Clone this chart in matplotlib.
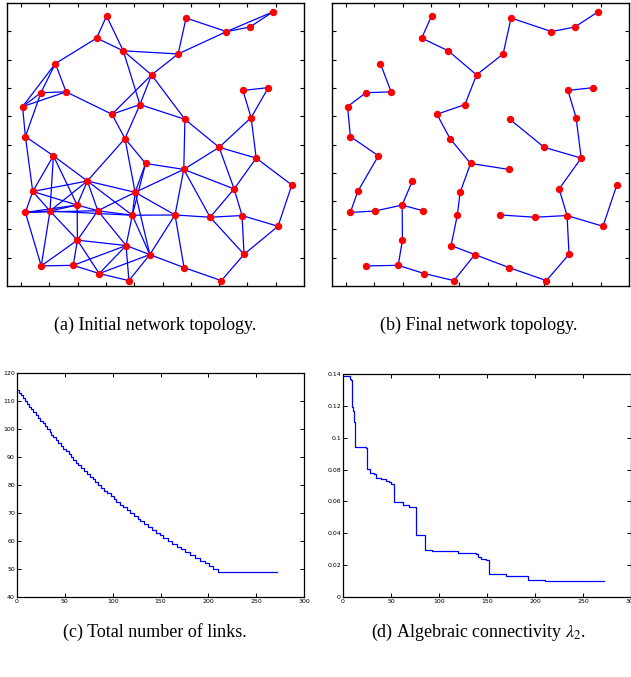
import numpy as np
import matplotlib
matplotlib.use('Agg')
import matplotlib.pyplot as plt

plt.rcParams['mathtext.fontset'] = 'stix'

# node positions (same nodes in both topologies)
nodes = {
    'A1': (0.302, 0.954), 'A2': (0.267, 0.876), 'A3': (0.361, 0.831), 'A4': (0.583, 0.947),
    'A5': (0.726, 0.899), 'A6': (0.808, 0.915), 'A7': (0.891, 0.969), 'A8': (0.555, 0.820),
    'A9': (0.461, 0.746), 'A10': (0.121, 0.786), 'A11': (0.070, 0.683), 'A12': (0.159, 0.686),
    'A13': (0.005, 0.634), 'A14': (0.420, 0.641), 'A15': (0.321, 0.607), 'A16': (0.579, 0.589),
    'A17': (0.784, 0.691), 'A18': (0.874, 0.701), 'A19': (0.813, 0.595), 'A20': (0.015, 0.528),
    'A21': (0.367, 0.521), 'A22': (0.700, 0.490),
    'B1': (0.114, 0.460), 'B2': (0.440, 0.433), 'B3': (0.575, 0.412), 'B5': (0.831, 0.452),
    'B6': (0.957, 0.357), 'B7': (0.234, 0.371), 'B8': (0.041, 0.334), 'B9': (0.403, 0.331),
    'B10': (0.753, 0.343), 'B11': (0.198, 0.286), 'B12': (0.015, 0.260), 'B13': (0.102, 0.265),
    'B14': (0.271, 0.266), 'B15': (0.393, 0.250), 'B16': (0.544, 0.251), 'B17': (0.668, 0.243),
    'B18': (0.781, 0.249), 'B19': (0.908, 0.211), 'B20': (0.199, 0.162), 'B21': (0.371, 0.143),
    'B22': (0.455, 0.111), 'B23': (0.788, 0.112), 'B24': (0.071, 0.071), 'B25': (0.184, 0.073),
    'B26': (0.276, 0.044), 'B27': (0.381, 0.019), 'B28': (0.576, 0.065), 'B29': (0.708, 0.019),
}

initial_edges = [
    ('A1', 'A2'), ('A1', 'A3'), ('A2', 'A3'), ('A2', 'A10'), ('A3', 'A8'), ('A3', 'A9'),
    ('A3', 'A14'), ('A4', 'A8'), ('A4', 'A5'), ('A5', 'A6'), ('A5', 'A7'), ('A6', 'A7'),
    ('A8', 'A5'), ('A8', 'A9'), ('A9', 'A15'), ('A9', 'A14'), ('A9', 'A16'), ('A10', 'A11'),
    ('A10', 'A12'), ('A10', 'A13'), ('A11', 'A12'), ('A11', 'A13'), ('A12', 'A13'), ('A12', 'A15'),
    ('A13', 'A20'), ('A11', 'A20'), ('A14', 'A15'), ('A14', 'A21'), ('A14', 'A16'), ('A15', 'A21'),
    ('A16', 'A22'), ('A16', 'B3'), ('A17', 'A18'), ('A17', 'A19'), ('A18', 'A19'), ('A19', 'A22'),
    ('A19', 'B5'), ('A20', 'B1'), ('A20', 'B8'), ('A21', 'B7'), ('A21', 'B9'), ('A21', 'B2'),
    ('B1', 'B7'), ('B1', 'B8'), ('B1', 'B13'), ('B1', 'B11'), ('B7', 'B8'), ('B7', 'B13'),
    ('B7', 'B11'), ('B7', 'B14'), ('B7', 'B9'), ('B7', 'B15'), ('B8', 'B12'), ('B8', 'B13'),
    ('B8', 'B11'), ('B12', 'B13'), ('B12', 'B14'), ('B12', 'B11'), ('B12', 'B24'), ('B13', 'B11'),
    ('B13', 'B15'), ('B13', 'B20'), ('B13', 'B24'), ('B11', 'B20'), ('B11', 'B14'), ('B14', 'B9'),
    ('B14', 'B15'), ('B14', 'B20'), ('B14', 'B21'), ('B9', 'B15'), ('B9', 'B3'), ('B9', 'B22'),
    ('B9', 'B16'), ('B2', 'B3'), ('B2', 'B9'), ('B2', 'B15'), ('B15', 'B16'), ('B15', 'B21'),
    ('B15', 'B22'), ('B16', 'B3'), ('B16', 'B17'), ('B16', 'B22'), ('B16', 'B28'), ('B3', 'B17'),
    ('B3', 'B10'), ('A22', 'B3'), ('A22', 'B10'), ('A22', 'B5'), ('B5', 'B10'), ('B5', 'B6'),
    ('B10', 'B17'), ('B10', 'B18'), ('B6', 'B19'), ('B17', 'B18'), ('B17', 'B23'), ('B18', 'B23'),
    ('B18', 'B19'), ('B19', 'B23'), ('B20', 'B24'), ('B20', 'B25'), ('B20', 'B26'), ('B20', 'B21'),
    ('B24', 'B25'), ('B25', 'B21'), ('B25', 'B26'), ('B26', 'B21'), ('B26', 'B22'), ('B21', 'B27'),
    ('B21', 'B22'), ('B22', 'B27'), ('B26', 'B27'), ('B22', 'B28'), ('B28', 'B29'), ('B29', 'B23'),
]

final_edges = [
    ('A1', 'A2'), ('A2', 'A3'), ('A3', 'A9'), ('A9', 'A8'), ('A8', 'A4'), ('A4', 'A5'),
    ('A5', 'A6'), ('A6', 'A7'), ('A9', 'A14'), ('A14', 'A15'), ('A15', 'A21'), ('A21', 'B2'),
    ('B2', 'B3'), ('B2', 'B9'), ('B9', 'B15'), ('B15', 'B21'), ('B21', 'B22'), ('B22', 'B27'),
    ('B22', 'B28'), ('B28', 'B29'), ('B29', 'B23'), ('B23', 'B18'), ('B18', 'B17'), ('B17', 'B16'),
    ('B18', 'B19'), ('B19', 'B6'), ('B18', 'B10'), ('B10', 'B5'), ('B5', 'A22'), ('A22', 'A16'),
    ('B5', 'A19'), ('A19', 'A17'), ('A17', 'A18'), ('B27', 'B26'), ('B26', 'B25'), ('B25', 'B24'),
    ('B25', 'B20'), ('B20', 'B11'), ('B11', 'B7'), ('B11', 'B14'), ('B11', 'B13'), ('B13', 'B12'),
    ('B12', 'B8'), ('B8', 'B1'), ('B1', 'A20'), ('A20', 'A13'), ('A13', 'A11'), ('A11', 'A12'),
    ('A12', 'A10'),
]

# iteration at which each link is removed (links 114 -> 49)
link_drop_iter = [2, 4, 6, 8, 10, 13, 15, 17, 20, 22, 24, 27, 29, 31, 34, 36, 38, 41, 43, 46,
                  48, 51, 54, 56, 59, 62, 64, 67, 70, 73, 76, 79, 82, 85, 88, 91, 94, 98, 101, 104,
                  108, 111, 115, 118, 122, 126, 129, 133, 137, 141, 145, 149, 153, 158, 162, 167,
                  171, 176, 181, 186, 191, 196, 201, 205, 210]
links_start = 114
last_iter = 272

lam_x = [0, 7, 8, 9.5, 10.5, 11.5, 13, 24, 25.5, 28, 32, 34, 40, 45, 48, 50, 53, 63, 69, 76.5,
         85, 93, 120, 139, 140.5, 144, 149, 152, 170, 192.5, 210, 272]
lam_y = [0.139, 0.137, 0.136, 0.119, 0.117, 0.110, 0.094, 0.0935, 0.0805, 0.0778, 0.0772,
         0.0745, 0.0738, 0.0730, 0.0722, 0.0712, 0.0597, 0.0576, 0.0567, 0.0388, 0.0296, 0.0288,
         0.0279, 0.0272, 0.0250, 0.0237, 0.0232, 0.0144, 0.0131, 0.0106, 0.0102, 0.0102]

W, H = 631, 677
fig = plt.figure(figsize=(W / 100, H / 100), dpi=100)


def px_axes(l, r, t, b):
    return fig.add_axes([l / W, 1 - b / H, (r - l) / W, (b - t) / H])


def draw_net(ax, edges):
    for u, v in edges:
        x0, y0 = nodes[u]
        x1, y1 = nodes[v]
        ax.plot([x0, x1], [y0, y1], color='#0000ff', lw=0.9, zorder=1)
    xs = [p[0] for p in nodes.values()]
    ys = [p[1] for p in nodes.values()]
    ax.plot(xs, ys, 'o', color='#ff0000', ms=4.3, mec='#ff0000', zorder=2)
    ax.set_xlim(-0.05, 1.0)
    ax.set_ylim(0, 1.0)
    ax.set_xticks(np.arange(0, 0.95, 0.1))
    ax.set_yticks(np.arange(0.1, 0.95, 0.1))
    ax.tick_params(direction='in', top=True, right=True, labelbottom=False, labelleft=False,
                   length=3, width=0.8)
    for s in ax.spines.values():
        s.set_linewidth(1.0)


ax_a = px_axes(7, 304, 3, 286)
draw_net(ax_a, initial_edges)
ax_b = px_axes(332, 629, 3, 286)
draw_net(ax_b, final_edges)

# links count
lx = [0] + link_drop_iter + [last_iter]
ly = [links_start] + [links_start - i - 1 for i in range(len(link_drop_iter))]
ly = ly + [ly[-1]]
ax_c = px_axes(17, 304, 373, 597)
ax_c.step(lx, ly, where='post', color='#0000ff', lw=0.9)
ax_c.set_xlim(0, 300)
ax_c.set_ylim(40, 120)
ax_c.set_xticks(range(0, 301, 50))
ax_c.set_yticks(range(40, 121, 10))

ax_d = px_axes(343, 631, 374, 597)
ax_d.step(lam_x, lam_y, where='post', color='#0000ff', lw=0.9)
ax_d.set_xlim(0, 300)
ax_d.set_ylim(0, 0.14)
ax_d.set_xticks(range(0, 301, 50))
ax_d.set_yticks(np.arange(0, 0.141, 0.02))
ax_d.set_yticklabels(['0', '0.02', '0.04', '0.06', '0.08', '0.1', '0.12', '0.14'])

for ax in (ax_c, ax_d):
    ax.tick_params(direction='in', top=True, right=True, length=3, width=0.7,
                   labelsize=4.5, pad=1.5)
    for s in ax.spines.values():
        s.set_linewidth(0.9)

cap = dict(family='Liberation Serif', fontsize=13, ha='center', va='center')
fig.text(155 / W, 1 - 325 / H, '(a) Initial network topology.', **cap)
fig.text(479 / W, 1 - 325 / H, '(b) Final network topology.', **cap)
fig.text(155 / W, 1 - 632 / H, '(c) Total number of links.', **cap)
fig.text(479 / W, 1 - 632 / H, r'(d) Algebraic connectivity $\lambda_2$.', **cap)

fig.savefig('out.png', dpi=100)
